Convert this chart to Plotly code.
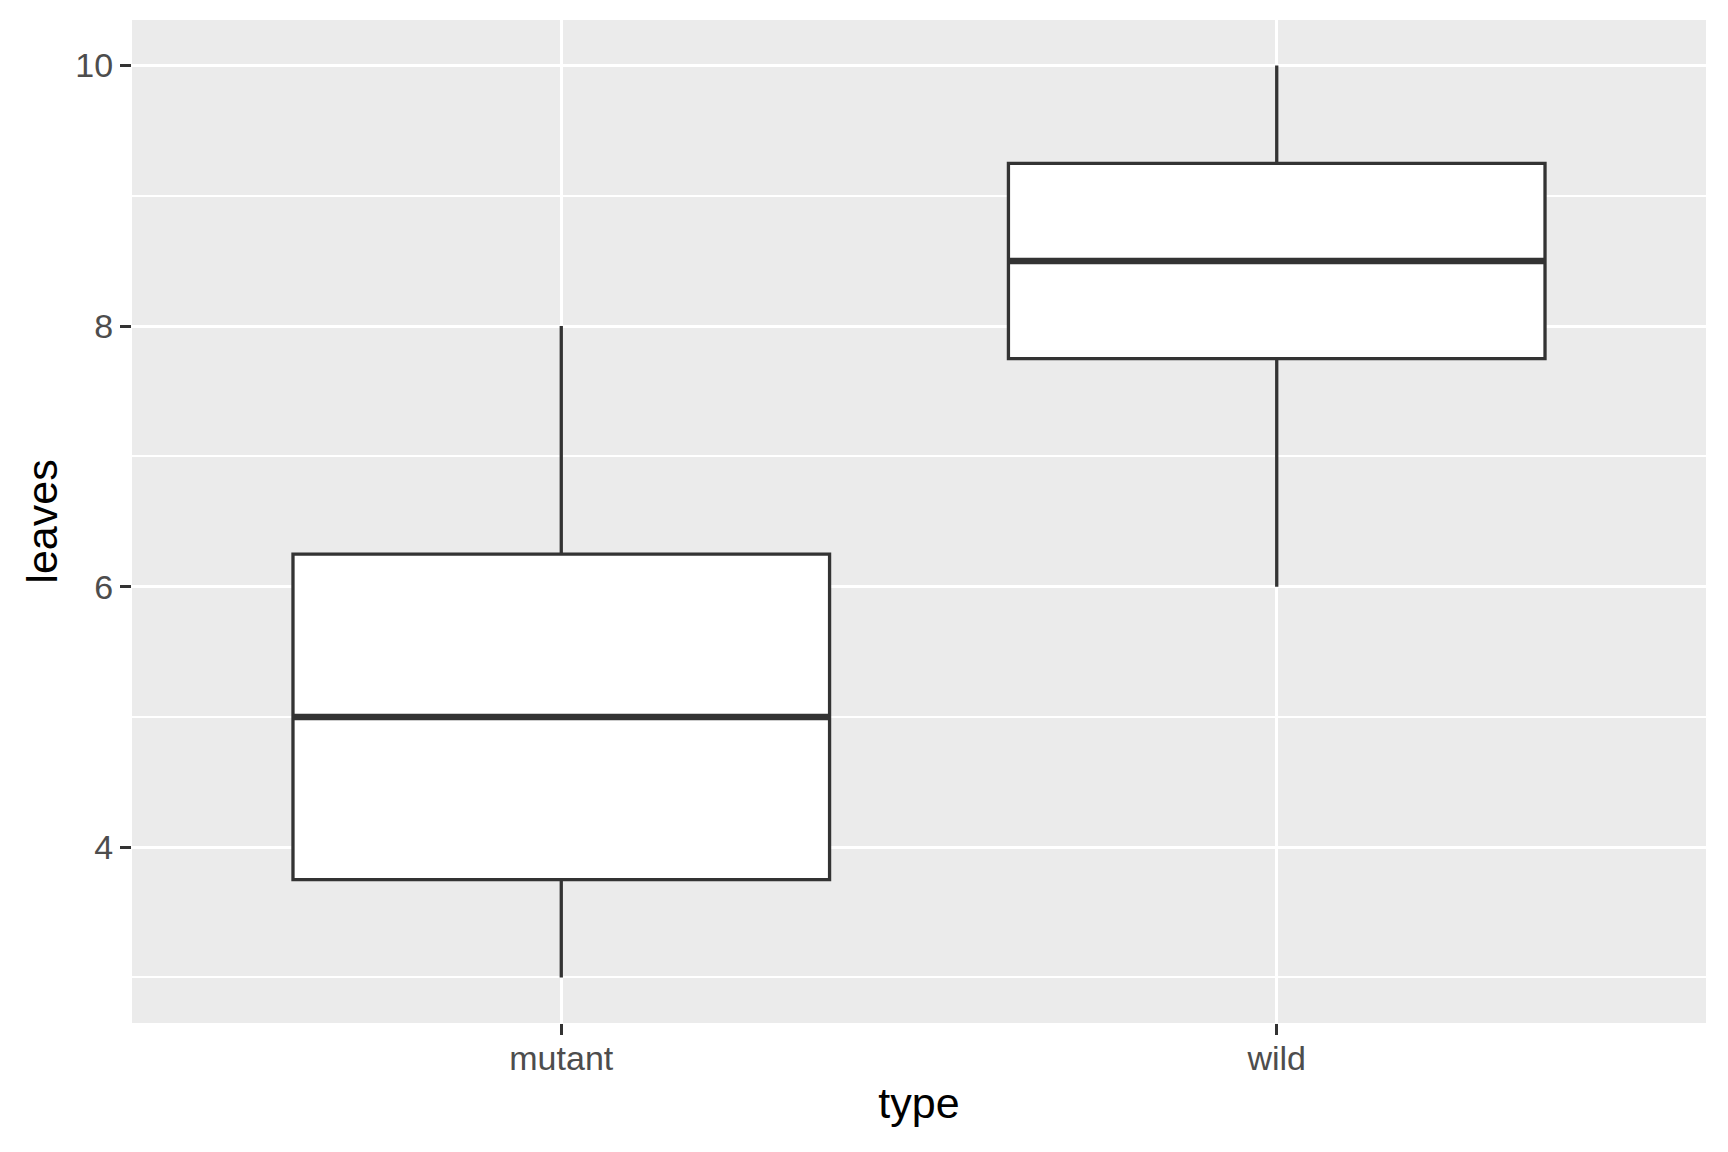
import plotly.graph_objects as go

categories = ["mutant", "wild"]
lower_whisker = [3, 6]
q1 = [3.75, 7.75]
median = [5, 8.5]
q3 = [6.25, 9.25]
upper_whisker = [8, 10]
y_ticks = [4, 6, 8, 10]
y_minor = [3, 5, 7, 9]

BOX_W = 0.75
pos = list(range(len(categories)))

fig = go.Figure()
fig.add_trace(go.Box(
    x=pos, q1=q1, median=median, q3=q3,
    lowerfence=lower_whisker, upperfence=upper_whisker,
    width=BOX_W, whiskerwidth=0,
    fillcolor="white", line=dict(color="#333333", width=3.3),
    boxpoints=False, showlegend=False, hoverinfo="skip",
))
# thicker median line (ggplot style)
for i, m in zip(pos, median):
    fig.add_trace(go.Scatter(
        x=[i - BOX_W / 2, i + BOX_W / 2], y=[m, m], mode="lines",
        line=dict(color="#333333", width=6.5), showlegend=False, hoverinfo="skip",
    ))

fig.update_layout(
    width=1720, height=1144,
    margin=dict(l=124, r=22, t=12, b=129),
    paper_bgcolor="white", plot_bgcolor="#EBEBEB",
    font=dict(family="Liberation Sans, Arial, sans-serif"),
)
fig.update_xaxes(
    range=[-0.6, 1.6], tickvals=pos, ticktext=categories,
    showgrid=True, gridcolor="white", gridwidth=3.2, zeroline=False,
    ticks="outside", ticklen=11, tickwidth=3.2, tickcolor="#333333",
    ticklabelstandoff=-6,
    tickfont=dict(size=34, color="#4D4D4D"),
    title=dict(text="type", font=dict(size=43, color="black"), standoff=12),
    showline=False,
)
fig.update_yaxes(
    range=[2.65, 10.35], tickvals=y_ticks,
    showgrid=True, gridcolor="white", gridwidth=3.2, zeroline=False,
    minor=dict(tickvals=y_minor, showgrid=True, gridcolor="white", gridwidth=1.6, ticks=""),
    ticks="outside", ticklen=11, tickwidth=3.2, tickcolor="#333333",
    tickfont=dict(size=34, color="#4D4D4D"),
    title=dict(text="leaves", font=dict(size=43, color="black"), standoff=4),
    showline=False,
)

fig.write_html("out.html")
